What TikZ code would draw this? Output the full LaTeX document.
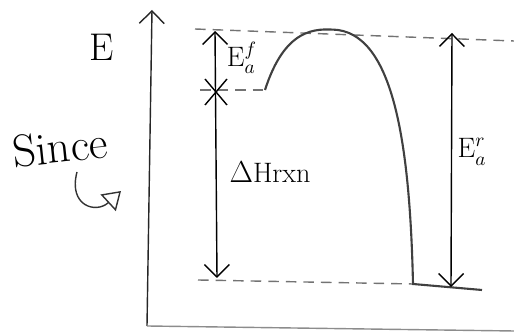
\documentclass[tikz,border=0pt]{standalone}
\usetikzlibrary{arrows.meta,calc}
\begin{document}
\begin{tikzpicture}[x=0.02cm, y=-0.02cm,
  axis/.style={thick, black!85},
  level/.style={thick, dash pattern=on 6pt off 4pt, black!55},
  tip/.style={-{Straight Barb[length=2.5mm, width=5mm]}},
  twotip/.style={{Straight Barb[length=2.5mm, width=5mm]}-{Straight Barb[length=2.5mm, width=5mm]}},
  curve/.style={very thick, black!75},
  label/.style={font=\fontsize{16}{18}\selectfont}
]
\useasboundingbox (0,0) rectangle (514,333);

% reference points
\coordinate (origin) at (147,326);
\coordinate (etop) at (152,10);
\coordinate (xend) at (514,331);
\coordinate (peakl) at (195,29);
\coordinate (peakr) at (514,41);
\coordinate (reactl) at (200,90);
\coordinate (react) at (265,90);
\coordinate (peak) at (338,30);
\coordinate (prodl) at (198,280);
\coordinate (prod) at (413,284);
\coordinate (prodr) at (482,290);

% axes
\draw[axis, tip] (origin) -- (etop);
\draw[axis, black!45] (origin) -- (xend);
\node[font=\fontsize{22}{24}\selectfont] (energy) at (102,47) {E};
\node[font=\fontsize{26}{28}\selectfont, rotate=6] (since) at (60,147) {Since};
\draw[thick, black!80, -{Triangle[open, length=3.5mm, width=4.5mm]}]
  (77,172) .. controls (68,206) and (96,214) .. (121,191);

% energy levels and curve
\draw[level] (peakl) -- (peakr);
\draw[level] (reactl) -- (react);
\draw[level] (prodl) -- (prod);
\draw[curve] (react) .. controls (285,28) and (315,28) .. (peak)
  .. controls (395,38) and (410,150) .. (prod) -- (prodr);

% forward activation energy and enthalpy
\coordinate (ftop) at (215,31);
\coordinate (fcross) at (216,92);
\coordinate (fbot) at (217,278);
\draw[thick, twotip] (ftop) -- (fbot);
\draw[thick] ($(fcross)+(-11,-13)$) -- ($(fcross)+(11,13)$);
\draw[thick] ($(fcross)+(-11,13)$) -- ($(fcross)+(11,-13)$);
\node[label] (eaf) at (242,58) {E$_a^f$};
\node[label] (dh) at (270,172) {$\Delta$Hrxn};

% reverse activation energy
\coordinate (rtop) at (452,33);
\coordinate (rbot) at (451,287);
\draw[thick, twotip] (rtop) -- (rbot);
\node[label] (ear) at (472,152) {E$_a^r$};
\end{tikzpicture}
\end{document}
